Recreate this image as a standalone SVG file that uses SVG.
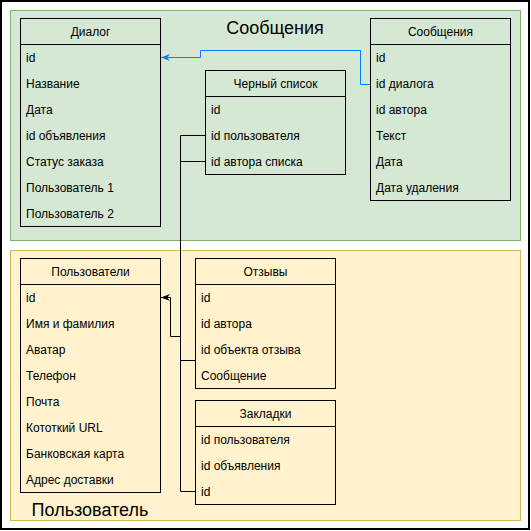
<svg xmlns="http://www.w3.org/2000/svg" width="531" height="531" viewBox="0 0 531 531">
<defs>
<style>
text{font-family:"Liberation Sans",Arial,Helvetica,sans-serif;fill:#000}
.row{font-size:12px}
.hdr{font-size:12px;text-anchor:middle}
.title{font-size:18px;text-anchor:middle}
.tbl{fill:none;stroke:#000;stroke-width:1}
.conn{fill:none;stroke:#000;stroke-width:1}
.blue{fill:none;stroke:#007FFF;stroke-width:1}
</style>
<marker id="arrBlack" markerUnits="userSpaceOnUse" viewBox="0 0 10 10" refX="10" refY="5" markerWidth="9" markerHeight="9" orient="auto">
<path d="M0,1 L10,5 L0,9 L3,5 Z" fill="#000"/>
</marker>
<marker id="arrBlue" markerUnits="userSpaceOnUse" viewBox="0 0 10 10" refX="10" refY="5" markerWidth="9" markerHeight="9" orient="auto">
<path d="M0,1 L10,5 L0,9 L3,5 Z" fill="#007FFF"/>
</marker>
</defs>
<rect x="1" y="1" width="528" height="528" fill="#fff" stroke="#000" stroke-width="2"/>

<g id="group-soobshcheniya">
<rect x="10.5" y="10.5" width="510" height="230" fill="#d5e8d4" stroke="#82b366"/>
<text class="title" x="275" y="33.5">Сообщения</text>
</g>
<g id="group-polzovatel">
<rect x="10.5" y="250.5" width="510" height="270" fill="#fff2cc" stroke="#d6b656"/>
<text class="title" x="90" y="515.5">Пользователь</text>
</g>

<g id="connectors">
<path class="blue" d="M370,84.5 H360.5 V50.5 H200.5 V57.5 H161" marker-end="url(#arrBlue)"/>
<path class="conn" d="M205,135.5 H180.5 V336.5 H170.5 V297.5 H161" marker-end="url(#arrBlack)"/>
<path class="conn" d="M205,161.5 H180.5 V336.5"/>
<path class="conn" d="M195,360.5 H180.5 V336.5"/>
<path class="conn" d="M195,491.5 H180.5 V336.5"/>
</g>

<g id="dialog">
<rect class="tbl" x="20.5" y="18.5" width="140" height="208"/>
<line class="tbl" x1="20.5" y1="44.5" x2="160.5" y2="44.5"/>
<text class="hdr" x="90.5" y="35.5">Диалог</text>
<text class="row" x="26" y="61.5">id</text>
<text class="row" x="26" y="87.5">Название</text>
<text class="row" x="26" y="113.5">Дата</text>
<text class="row" x="26" y="139.5">id объявления</text>
<text class="row" x="26" y="165.5">Статус заказа</text>
<text class="row" x="26" y="191.5">Пользователь 1</text>
<text class="row" x="26" y="217.5">Пользователь 2</text>
</g>

<g id="blacklist">
<rect class="tbl" x="205.5" y="70.5" width="140" height="104"/>
<line class="tbl" x1="205.5" y1="96.5" x2="345.5" y2="96.5"/>
<text class="hdr" x="275.5" y="87.5">Черный список</text>
<text class="row" x="211" y="113.5">id</text>
<text class="row" x="211" y="139.5">id пользователя</text>
<text class="row" x="211" y="165.5">id автора списка</text>
</g>

<g id="messages">
<rect class="tbl" x="370.5" y="18.5" width="140" height="182"/>
<line class="tbl" x1="370.5" y1="44.5" x2="510.5" y2="44.5"/>
<text class="hdr" x="440.5" y="35.5">Сообщения</text>
<text class="row" x="376" y="61.5">id</text>
<text class="row" x="376" y="87.5">id диалога</text>
<text class="row" x="376" y="113.5">id автора</text>
<text class="row" x="376" y="139.5">Текст</text>
<text class="row" x="376" y="165.5">Дата</text>
<text class="row" x="376" y="191.5">Дата удаления</text>
</g>

<g id="users">
<rect class="tbl" x="20.5" y="258.5" width="140" height="234"/>
<line class="tbl" x1="20.5" y1="284.5" x2="160.5" y2="284.5"/>
<text class="hdr" x="90.5" y="275.5">Пользователи</text>
<text class="row" x="26" y="301.5">id</text>
<text class="row" x="26" y="327.5">Имя и фамилия</text>
<text class="row" x="26" y="353.5">Аватар</text>
<text class="row" x="26" y="379.5">Телефон</text>
<text class="row" x="26" y="405.5">Почта</text>
<text class="row" x="26" y="431.5">Кототкий URL</text>
<text class="row" x="26" y="457.5">Банковская карта</text>
<text class="row" x="26" y="483.5">Адрес доставки</text>
</g>

<g id="reviews">
<rect class="tbl" x="195.5" y="258.5" width="140" height="130"/>
<line class="tbl" x1="195.5" y1="284.5" x2="335.5" y2="284.5"/>
<text class="hdr" x="265.5" y="275.5">Отзывы</text>
<text class="row" x="201" y="301.5">id</text>
<text class="row" x="201" y="327.5">id автора</text>
<text class="row" x="201" y="353.5">id объекта отзыва</text>
<text class="row" x="201" y="379.5">Сообщение</text>
</g>

<g id="bookmarks">
<rect class="tbl" x="195.5" y="400.5" width="140" height="104"/>
<line class="tbl" x1="195.5" y1="426.5" x2="335.5" y2="426.5"/>
<text class="hdr" x="265.5" y="417.5">Закладки</text>
<text class="row" x="201" y="443.5">id пользователя</text>
<text class="row" x="201" y="469.5">id объявления</text>
<text class="row" x="201" y="495.5">id</text>
</g>
</svg>
